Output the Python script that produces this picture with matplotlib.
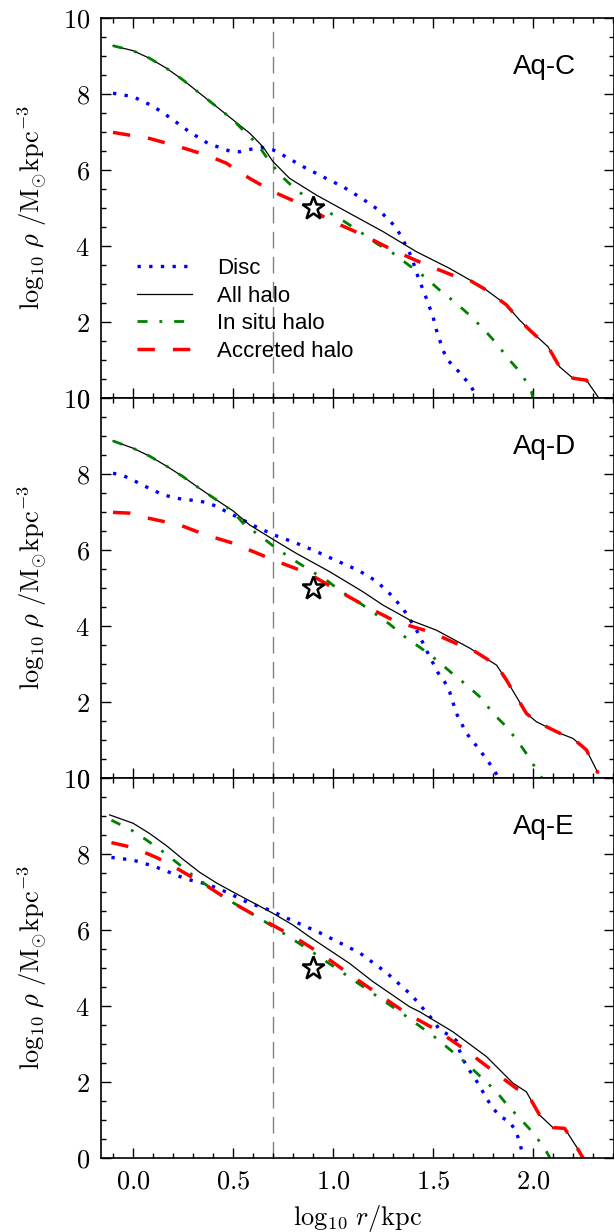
import matplotlib
matplotlib.use('Agg')
import matplotlib.pyplot as plt
from matplotlib.ticker import FuncFormatter, MultipleLocator

# ---- Aq-C -------------------------------------------------------------
c_disc_r = [-0.1, 0.0, 0.1, 0.19, 0.283, 0.375, 0.483, 0.533, 0.592, 0.642, 0.7, 0.75,
            0.85, 0.95, 1.05, 1.142, 1.233, 1.308, 1.342, 1.367, 1.392, 1.425, 1.467,
            1.5, 1.517, 1.55, 1.572, 1.608, 1.65, 1.687, 1.713]
c_disc = [8.02, 7.93, 7.68, 7.36, 7.0, 6.70, 6.50, 6.48, 6.55, 6.59, 6.53, 6.39,
          6.09, 5.82, 5.56, 5.26, 4.93, 4.53, 4.25, 3.98, 3.72, 3.19, 2.62,
          2.14, 1.79, 1.26, 1.0, 0.82, 0.56, 0.34, 0.08]
c_halo_r = [-0.1, 0.0, 0.083, 0.167, 0.25, 0.333, 0.417, 0.5, 0.583, 0.65, 0.7, 0.783,
            0.917, 1.083, 1.25, 1.417, 1.583, 1.683, 1.767, 1.867, 1.933, 1.983, 2.075,
            2.133, 2.2, 2.267, 2.325]
c_halo = [9.27, 9.14, 8.94, 8.68, 8.37, 8.02, 7.67, 7.32, 6.97, 6.61, 6.22, 5.78,
          5.34, 4.86, 4.38, 3.85, 3.41, 3.11, 2.84, 2.45, 2.05, 1.79, 1.35,
          0.82, 0.52, 0.47, 0.03]
c_insitu_r = [-0.1, 0.0, 0.083, 0.167, 0.25, 0.333, 0.417, 0.5, 0.55, 0.625, 0.683,
              0.742, 0.817, 0.975, 1.058, 1.142, 1.217, 1.3, 1.383, 1.458, 1.533,
              1.617, 1.683, 1.75, 1.817, 1.875, 1.942, 1.992, 2.0]
c_insitu = [9.27, 9.14, 8.94, 8.68, 8.37, 8.02, 7.67, 7.32, 7.05, 6.66, 6.22,
            5.84, 5.47, 4.90, 4.64, 4.35, 4.07, 3.81, 3.48, 3.19, 2.84,
            2.49, 2.18, 1.83, 1.44, 1.04, 0.65, 0.17, 0.0]
c_accr_r = [-0.1, 0.083, 0.233, 0.367, 0.467, 0.517, 0.583, 0.7, 0.85, 0.983, 1.15,
            1.3, 1.45, 1.617, 1.683, 1.767, 1.867, 1.933, 1.983, 2.075, 2.133, 2.2,
            2.267, 2.325]
c_accr = [6.99, 6.83, 6.61, 6.39, 6.18, 6.0, 5.78, 5.43, 5.08, 4.68, 4.29,
          3.89, 3.54, 3.19, 3.10, 2.84, 2.45, 2.05, 1.79, 1.35, 0.82, 0.52,
          0.47, 0.03]

# ---- Aq-D -------------------------------------------------------------
d_disc_r = [-0.1, -0.05, 0.0, 0.05, 0.1, 0.15, 0.2, 0.25, 0.317, 0.367, 0.417, 0.467,
            0.517, 0.608, 0.708, 0.817, 0.917, 1.017, 1.125, 1.217, 1.3, 1.367, 1.425,
            1.475, 1.525, 1.558, 1.583, 1.617, 1.667, 1.733, 1.8, 1.828]
d_disc = [8.02, 7.96, 7.84, 7.70, 7.58, 7.45, 7.39, 7.33, 7.30, 7.25, 7.15, 7.01,
          6.88, 6.63, 6.39, 6.18, 5.96, 5.72, 5.47, 5.18, 4.77, 4.33, 3.82,
          3.28, 2.77, 2.53, 2.27, 1.70, 1.18, 0.74, 0.26, 0.0]
d_halo_r = [-0.1, 0.0, 0.083, 0.167, 0.25, 0.333, 0.417, 0.5, 0.583, 0.7, 0.817, 0.983,
            1.15, 1.25, 1.383, 1.517, 1.683, 1.818, 1.867, 1.917, 1.967, 2.017, 2.067,
            2.133, 2.2, 2.267, 2.325]
d_halo = [8.87, 8.68, 8.47, 8.21, 7.93, 7.62, 7.32, 7.03, 6.66, 6.28, 5.91, 5.43,
          4.90, 4.55, 4.16, 3.89, 3.42, 2.97, 2.58, 2.14, 1.70, 1.48, 1.35,
          1.18, 1.04, 0.74, 0.13]
d_insitu_r = [-0.1, 0.0, 0.083, 0.167, 0.25, 0.333, 0.417, 0.5, 0.558, 0.642, 0.717,
              0.8, 0.883, 0.967, 1.042, 1.125, 1.208, 1.283, 1.358, 1.442, 1.517,
              1.592, 1.667, 1.742, 1.8, 1.867, 1.925, 1.983, 2.033, 2.045]
d_insitu = [8.87, 8.68, 8.47, 8.21, 7.93, 7.62, 7.32, 7.01, 6.66, 6.35, 6.04,
            5.75, 5.47, 5.21, 4.90, 4.64, 4.33, 4.05, 3.72, 3.41, 3.11,
            2.77, 2.45, 2.10, 1.70, 1.35, 0.96, 0.52, 0.08, 0.0]
d_accr_r = [-0.1, -0.017, 0.083, 0.233, 0.367, 0.5, 0.6, 0.725, 0.875, 1.025, 1.167,
            1.317, 1.483, 1.633, 1.683, 1.818, 1.867, 1.917, 1.967, 2.017, 2.067,
            2.133, 2.2, 2.267, 2.325]
d_accr = [6.99, 6.97, 6.83, 6.66, 6.39, 6.18, 5.96, 5.69, 5.39, 4.93, 4.51,
          4.11, 3.85, 3.50, 3.42, 2.97, 2.58, 2.14, 1.70, 1.48, 1.35,
          1.18, 1.04, 0.74, 0.13]

# ---- Aq-E -------------------------------------------------------------
e_disc_r = [-0.108, 0.0, 0.058, 0.108, 0.163, 0.213, 0.267, 0.375, 0.475, 0.575, 0.68,
            0.783, 0.933, 1.133, 1.267, 1.392, 1.5, 1.533, 1.575, 1.617, 1.633, 1.655,
            1.683, 1.713, 1.742, 1.77, 1.8, 1.835, 1.883, 1.913, 1.933, 1.945, 1.95]
e_disc = [7.91, 7.84, 7.75, 7.67, 7.56, 7.45, 7.34, 7.20, 6.98, 6.72, 6.53,
          6.28, 5.93, 5.40, 4.88, 4.29, 3.63, 3.37, 3.25, 3.09, 2.82, 2.55,
          2.30, 2.07, 1.81, 1.55, 1.31, 1.10, 0.95, 0.72, 0.43, 0.15, 0.0]
e_halo_r = [-0.117, 0.0, 0.083, 0.167, 0.25, 0.333, 0.417, 0.5, 0.6, 0.7, 0.8, 0.883,
            1.083, 1.2, 1.383, 1.433, 1.6, 1.767, 1.9, 1.967, 2.033, 2.1, 2.158,
            2.217, 2.25]
e_halo = [9.03, 8.81, 8.54, 8.22, 7.86, 7.52, 7.24, 7.0, 6.72, 6.44, 6.13, 5.82,
          5.12, 4.64, 3.98, 3.85, 3.32, 2.67, 1.97, 1.74, 1.13, 0.80, 0.78,
          0.30, 0.0]
e_insitu_r = [-0.108, -0.008, 0.067, 0.15, 0.225, 0.308, 0.463, 0.55, 0.7, 0.883, 1.042,
              1.2, 1.358, 1.517, 1.667, 1.742, 1.813, 1.875, 1.942, 2.008, 2.067, 2.085]
e_insitu = [8.89, 8.63, 8.37, 8.06, 7.75, 7.40, 6.83, 6.57, 6.09, 5.47, 4.90,
            4.33, 3.76, 3.15, 2.49, 2.12, 1.77, 1.37, 1.0, 0.62, 0.17, 0.0]
e_accr_r = [-0.108, -0.033, 0.05, 0.125, 0.233, 0.375, 0.517, 0.667, 0.817, 0.95, 1.1,
            1.233, 1.367, 1.517, 1.65, 1.783, 1.917, 1.967, 2.033, 2.1, 2.158, 2.217, 2.25]
e_accr = [8.30, 8.21, 8.06, 7.89, 7.58, 7.14, 6.66, 6.22, 5.78, 5.34, 4.77,
          4.29, 3.81, 3.37, 2.89, 2.36, 1.83, 1.74, 1.13, 0.80, 0.78, 0.30, 0.0]

panel_names = ['Aq-C', 'Aq-D', 'Aq-E']
legend_labels = ['Disc', 'All halo', 'In situ halo', 'Accreted halo']
star_r, star_rho = 0.9, 5.0
r_vline = 0.7

panels = [
    (c_disc_r, c_disc, c_halo_r, c_halo, c_insitu_r, c_insitu, c_accr_r, c_accr),
    (d_disc_r, d_disc, d_halo_r, d_halo, d_insitu_r, d_insitu, d_accr_r, d_accr),
    (e_disc_r, e_disc, e_halo_r, e_halo, e_insitu_r, e_insitu, e_accr_r, e_accr),
]

plt.rcParams['mathtext.fontset'] = 'cm'
plt.rcParams['font.family'] = ['Liberation Sans', 'DejaVu Sans']

W, H = 614, 1232
fig = plt.figure(figsize=(W / 100, H / 100), dpi=100)
gs = fig.add_gridspec(3, 1, left=101 / W, right=1.0, top=1 - 18 / H,
                      bottom=74 / H, hspace=0)

tick_fmt_y = FuncFormatter(lambda v, p: '$%g$' % v)
tick_fmt_x = FuncFormatter(lambda v, p: '$%.1f$' % v)

for i, data in enumerate(panels):
    ax = fig.add_subplot(gs[i])
    dr, dd, hr, hh, ir, ii, ar, aa = data
    ax.axvline(r_vline, color='0.5', lw=1, dashes=(12, 6), zorder=1)
    l1, = ax.plot(dr, dd, color='blue', lw=2.4, dashes=(1, 2.5), label=legend_labels[0])
    l2, = ax.plot(hr, hh, color='black', lw=0.9, label=legend_labels[1])
    l3, = ax.plot(ir, ii, color='green', lw=2.0, dashes=(3.6, 4.3, 1, 4.3),
                  label=legend_labels[2])
    l4, = ax.plot(ar, aa, color='red', lw=2.5, dashes=(5, 5.2), label=legend_labels[3])
    ax.plot([star_r], [star_rho], marker='*', ms=17, mfc='white', mec='black',
            mew=1.8, ls='none', zorder=5)

    ax.set_xlim(-0.16, 2.405)
    ax.set_ylim(0, 10)
    ax.set_xticks([0.0, 0.5, 1.0, 1.5, 2.0])
    ax.xaxis.set_minor_locator(MultipleLocator(0.1))
    ax.set_yticks([0, 2, 4, 6, 8, 10])
    ax.yaxis.set_minor_locator(MultipleLocator(0.5))
    ax.yaxis.set_major_formatter(tick_fmt_y)
    ax.xaxis.set_major_formatter(tick_fmt_x)
    ax.tick_params(which='both', direction='in', top=True, right=True, width=1,
                   labelsize=19, pad=8)
    ax.tick_params(which='major', length=7)
    ax.tick_params(which='minor', length=3.5)
    for s in ax.spines.values():
        s.set_linewidth(1.2)
    if i < 2:
        ax.tick_params(labelbottom=False)
    else:
        ax.set_xlabel(r'$\log_{10}\,r/\mathrm{kpc}$', fontsize=19)
        ax.xaxis.set_label_coords(0.5, -0.118)

    ax.set_ylabel(r'$\log_{10}\,\rho\ /\mathrm{M_{\odot}kpc^{-3}}$', fontsize=19)
    ax.yaxis.set_label_coords(-0.102, 0.5)
    ax.text(0.864, 0.87, panel_names[i], transform=ax.transAxes, fontsize=20,
            ha='center', va='center')

    if i == 0:
        ax.legend(handles=[l1, l2, l3, l4], loc='center left',
                  bbox_to_anchor=(0.07, 0.232), frameon=False, fontsize=16,
                  handlelength=2.5, handletextpad=1.1, labelspacing=0.3,
                  borderpad=0, borderaxespad=0)

fig.savefig('out.png', dpi=100)
